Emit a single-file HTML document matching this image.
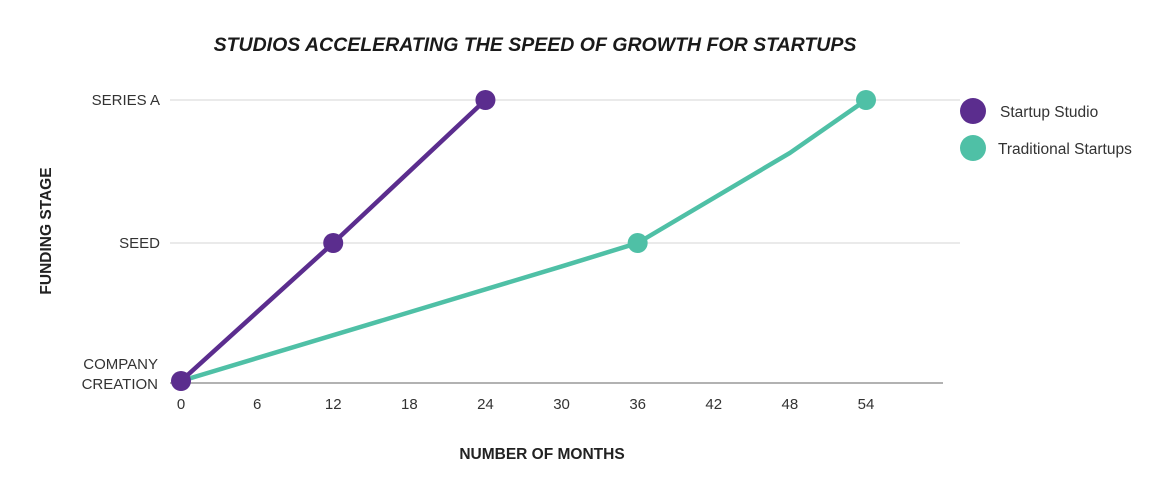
<!DOCTYPE html>
<html><head><meta charset="utf-8"><style>
html,body{margin:0;padding:0;background:#fff;}
svg{display:block;font-family:"Liberation Sans",sans-serif;}
</style></head><body>
<svg id="chart" width="1162" height="502">
<text x="535" y="51" text-anchor="middle" font-size="19.5" font-weight="bold" font-style="italic" fill="#1a1a1a">STUDIOS ACCELERATING THE SPEED OF GROWTH FOR STARTUPS</text>
<text transform="translate(51,231) rotate(-90)" text-anchor="middle" font-size="15.5" font-weight="bold" fill="#222">FUNDING STAGE</text>
<text x="542" y="459" text-anchor="middle" font-size="15.5" font-weight="bold" fill="#222">NUMBER OF MONTHS</text>
<g id="grid"></g><g id="xticks"></g><g id="yticks"></g><g id="series"></g>
<g>
<circle cx="973" cy="111" r="13" fill="#5b2d8e"/>
<text x="1000" y="117" font-size="15.5" fill="#333">Startup Studio</text>
<circle cx="973" cy="148" r="13" fill="#4fc0a6"/>
<text x="998" y="154" font-size="15.5" fill="#333">Traditional Startups</text>
</g>
</svg>
<script>
const xTicks=[0,6,12,18,24,30,36,42,48,54];
const yStages=["COMPANY CREATION","SEED","SERIES A"];
const studioMonths=[0,12,24];
const studioStage=[0,1,2];
const tradMonths=[0,30,36,48,54];
const tradStage=[0,0.83,1,1.63,2];
const tradMarkers=[false,false,true,false,true];
const NS="http://www.w3.org/2000/svg";
const xs=m=>181+m*(685/54);
const ys=v=>(v<=1?381-v*138:243-(v-1)*143);
function mk(t,a,p){const e=document.createElementNS(NS,t);for(const k in a)e.setAttribute(k,a[k]);p.appendChild(e);return e;}
const grid=document.getElementById('grid'),xt=document.getElementById('xticks'),yt=document.getElementById('yticks'),se=document.getElementById('series');
yStages.forEach((s,i)=>{
  const l=mk('line',{x1:170,x2:i==0?943:960,y1:ys(i)+(i==0?2:0),y2:ys(i)+(i==0?2:0),stroke:i==0?'#999':'#ddd','stroke-width':i==0?1.5:1.2},grid);
  
  
  if(i==0){
    const t1=mk('text',{x:158,y:369,'text-anchor':'end','font-size':15,fill:'#333'},yt);t1.textContent='COMPANY';
    
    
    const t2=mk('text',{x:158,y:389,'text-anchor':'end','font-size':15,fill:'#333'},yt);t2.textContent='CREATION';
    
    
  } else {
    const t=mk('text',{x:160,y:ys(i)+5,'text-anchor':'end','font-size':15,fill:'#333'},yt);t.textContent=s;
    
    
  }
});
xTicks.forEach(m=>{const t=mk('text',{x:xs(m),y:409,'text-anchor':'middle','font-size':15,fill:'#333'},xt);t.textContent=m;
  
  });
const tp=mk('polyline',{points:tradMonths.map((m,i)=>xs(m)+','+ys(tradStage[i])).join(' '),fill:'none',stroke:'#4fc0a6','stroke-width':4.5,'stroke-linejoin':'round'},se);


tradMonths.forEach((m,i)=>{if(!tradMarkers[i])return;const c=mk('circle',{cx:xs(m),cy:ys(tradStage[i]),r:10,fill:'#4fc0a6'},se);
  
  });
const sp=mk('polyline',{points:studioMonths.map((m,i)=>xs(m)+','+ys(studioStage[i])).join(' '),fill:'none',stroke:'#5b2d8e','stroke-width':4.5},se);


studioMonths.forEach((m,i)=>{const c=mk('circle',{cx:xs(m),cy:ys(studioStage[i]),r:10,fill:'#5b2d8e'},se);
  
  });
</script>
</body></html>
